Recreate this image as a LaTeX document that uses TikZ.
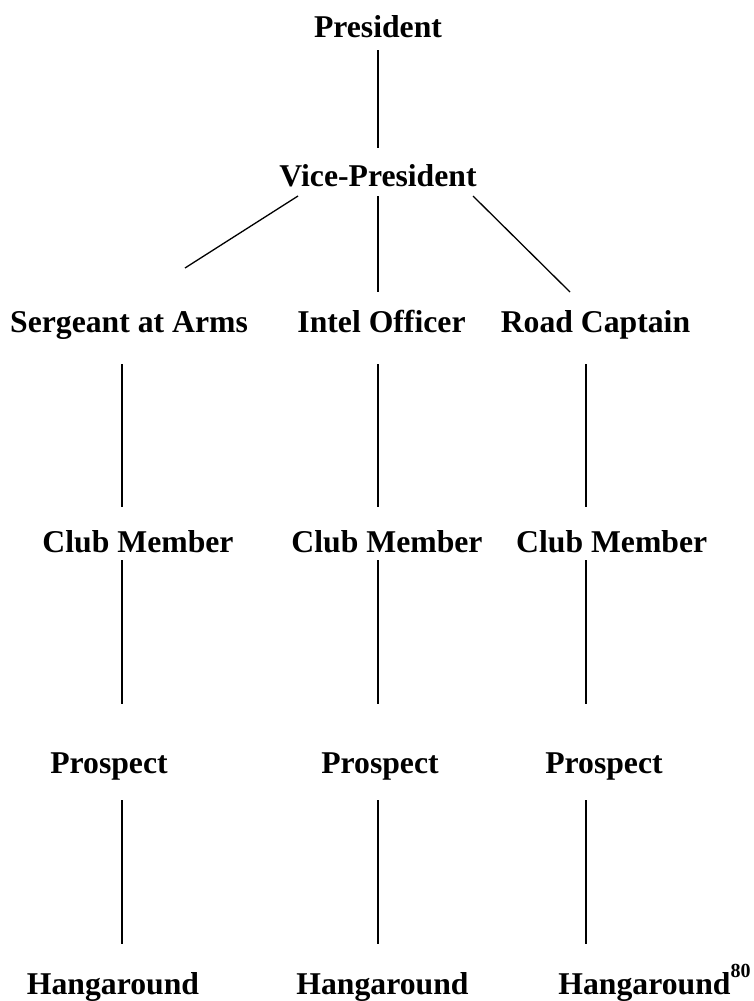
\documentclass[tikz,border=0pt]{standalone}
\usepackage{fontspec}
\setmainfont{Liberation Serif}
\usepackage{tikz}
\usetikzlibrary{positioning}
\tikzstyle{rank}=[font=\fontsize{31.7}{36}\selectfont\bfseries, inner sep=0pt, anchor=base]
\tikzstyle{link}=[draw, line width=1.3pt, -]
\begin{document}
\begin{tikzpicture}[x=1pt,y=-1pt]
\useasboundingbox (0,0) rectangle (753,1001);
\node (pres) [rank] at (378,37) {President};
\node (vp) [rank] at (378,186) {Vice-President};
\node (saa) [rank] at (129,332) {Sergeant at Arms};
\node (io) [rank] at (381.5,332) {Intel Officer};
\node (rc) [rank] at (595.5,332) {Road Captain};
\node (cma) [rank] at (138,552) {Club Member};
\node (cmb) [rank] at (387,552) {Club Member};
\node (cmc) [rank] at (611.7,552) {Club Member};
\node (pra) [rank] at (109,773) {Prospect};
\node (prb) [rank] at (380,773) {Prospect};
\node (prc) [rank] at (604,773) {Prospect};
\node (hga) [rank] at (113,994) {Hangaround};
\node (hgb) [rank] at (382.5,994) {Hangaround};
\node (hgc) [rank] at (654.5,994) {Hangaround\raisebox{17pt}{\fontsize{20}{20}\selectfont 80}};
% top
\draw[link] ([yshift=-13pt]pres.base) -- ([yshift=38pt]vp.base);
\draw[link] ([xshift=-80pt,yshift=-10pt]vp.base) -- ([xshift=56pt,yshift=64pt]saa.base);
\draw[link] ([yshift=-10pt]vp.base) -- ([xshift=-3.5pt,yshift=40pt]io.base);
\draw[link] ([xshift=95pt,yshift=-10pt]vp.base) -- ([xshift=-25.5pt,yshift=40pt]rc.base);
% left column
\draw[link] ([xshift=-7pt,yshift=-32pt]saa.base) -- ([xshift=-16pt,yshift=45pt]cma.base);
\draw[link] ([xshift=-16pt,yshift=-8pt]cma.base) -- ([xshift=13pt,yshift=69pt]pra.base);
\draw[link] ([xshift=13pt,yshift=-27pt]pra.base) -- ([xshift=9pt,yshift=50pt]hga.base);
% middle column
\draw[link] ([xshift=-3.5pt,yshift=-32pt]io.base) -- ([xshift=-9pt,yshift=45pt]cmb.base);
\draw[link] ([xshift=-9pt,yshift=-8pt]cmb.base) -- ([xshift=-2pt,yshift=69pt]prb.base);
\draw[link] ([xshift=-2pt,yshift=-27pt]prb.base) -- ([xshift=-4.5pt,yshift=50pt]hgb.base);
% right column
\draw[link] ([xshift=-9.5pt,yshift=-32pt]rc.base) -- ([xshift=-25.7pt,yshift=45pt]cmc.base);
\draw[link] ([xshift=-25.7pt,yshift=-8pt]cmc.base) -- ([xshift=-18pt,yshift=69pt]prc.base);
\draw[link] ([xshift=-18pt,yshift=-27pt]prc.base) -- ([xshift=-68.5pt,yshift=50pt]hgc.base);
\end{tikzpicture}
\end{document}
